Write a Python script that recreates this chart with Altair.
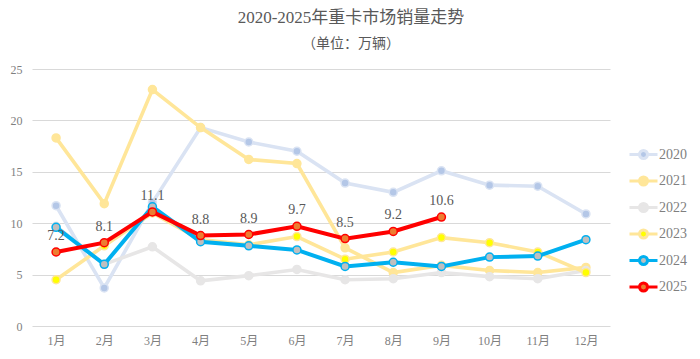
import altair as alt
import pandas as pd

months = ["1月", "2月", "3月", "4月", "5月", "6月", "7月", "8月", "9月", "10月", "11月", "12月"]
years = ["2020", "2021", "2022", "2023", "2024", "2025"]

sales_2020 = [11.7, 3.7, 12.0, 19.3, 17.9, 17.0, 13.9, 13.0, 15.1, 13.7, 13.6, 10.9]
sales_2021 = [18.3, 11.9, 23.0, 19.3, 16.2, 15.8, 7.6, 5.2, 5.9, 5.4, 5.2, 5.7]
sales_2022 = [9.7, 6.0, 7.7, 4.4, 4.9, 5.5, 4.5, 4.6, 5.2, 4.8, 4.6, 5.4]
sales_2023 = [4.5, 7.8, 11.0, 8.4, 7.9, 8.7, 6.5, 7.2, 8.6, 8.1, 7.2, 5.2]
sales_2024 = [9.6, 6.0, 11.6, 8.2, 7.8, 7.4, 5.8, 6.2, 5.8, 6.7, 6.8, 8.4]
sales_2025 = [7.2, 8.1, 11.1, 8.8, 8.9, 9.7, 8.5, 9.2, 10.6]

line_colors = ["#dae3f3", "#ffe699", "#e7e6e6", "#ffe699", "#00b0f0", "#ff0000"]
marker_fills = ["#b4c7e7", "#ffe699", "#e7e6e6", "#ffff00", "#bfbfbf", "#ed7d31"]

series = [sales_2020, sales_2021, sales_2022, sales_2023, sales_2024, sales_2025]
rows = []
for yr, vals in zip(years, series):
    for m, v in zip(months, vals):
        rows.append({"month": m, "year": yr, "value": v})
df = pd.DataFrame(rows)

FONT = "Liberation Serif, Noto Sans CJK SC"
GRID = "#d9d9d9"
LABEL = "#7f7f7f"
TEXT = "#595959"

PATH = ("M-2,0H-0.571M0.571,0H2"
        "M0.571,0A0.571,0.571,0,1,1,-0.571,0A0.571,0.571,0,1,1,0.571,0Z")

legend = alt.Legend(
    title=None, orient="none", legendX=603, legendY=77,
    symbolType=PATH, symbolSize=196, symbolStrokeWidth=3,
    labelFont=FONT, labelFontSize=14, labelColor=LABEL, labelOffset=7,
    rowPadding=5.5, padding=0,
)

x_enc = alt.X(
    "month:O", sort=months,
    scale=alt.Scale(type="point", padding=0.5),
    axis=alt.Axis(title=None, labelAngle=0, domain=False, ticks=False,
                  labelPadding=9, labelFontSize=12, labelColor=LABEL,
                  labelFont=FONT, grid=False),
)
y_enc = alt.Y(
    "value:Q",
    scale=alt.Scale(domain=[0, 25], nice=False, zero=True),
    axis=alt.Axis(title=None, values=[0, 5, 10, 15, 20, 25], domain=False,
                  ticks=False, grid=True, gridColor=GRID, gridWidth=1.2,
                  labelPadding=10, labelFontSize=12, labelColor=LABEL,
                  labelFont=FONT),
)
stroke_enc = alt.Stroke("year:N", scale=alt.Scale(domain=years, range=line_colors), legend=legend)
fill_enc = alt.Fill("year:N", scale=alt.Scale(domain=years, range=marker_fills), legend=legend)

layers = []
for i, yr in enumerate(years):
    sw = 4 if yr in ("2024", "2025") else 3.6
    line = alt.Chart().mark_line(strokeWidth=sw).encode(
        x=x_enc, y=y_enc, stroke=stroke_enc
    ).transform_filter(alt.datum.year == yr)
    pts = alt.Chart().mark_point(shape="circle", filled=True, size=64, strokeWidth=1.5, opacity=1).encode(
        x=x_enc, y=y_enc, stroke=stroke_enc, fill=fill_enc
    ).transform_filter(alt.datum.year == yr)
    layers += [line, pts]

labels = alt.Chart().mark_text(dy=-16, font=FONT, fontSize=14, color=TEXT).encode(
    x=x_enc, y=y_enc, text=alt.Text("value:Q", format=".1f")
).transform_filter(alt.datum.year == "2025")
layers.append(labels)

chart = alt.layer(*layers, data=df).properties(
    width=578, height=257,
    autosize=alt.AutoSizeParams(type="none"),
    padding={"left": 24, "top": 61, "right": 82, "bottom": 25},
    title=alt.Title(
        text="2020-2025年重卡市场销量走势",
        subtitle="（单位：万辆）",
        font=FONT, fontSize=17, fontWeight="normal", color=TEXT,
        subtitleFont=FONT, subtitleFontSize=14, subtitleColor=TEXT,
        subtitlePadding=10, offset=11, anchor="middle", dx=30,
    ),
).configure_view(strokeWidth=0)

chart.save("out.html", embed_options={"renderer": "svg", "actions": False})
